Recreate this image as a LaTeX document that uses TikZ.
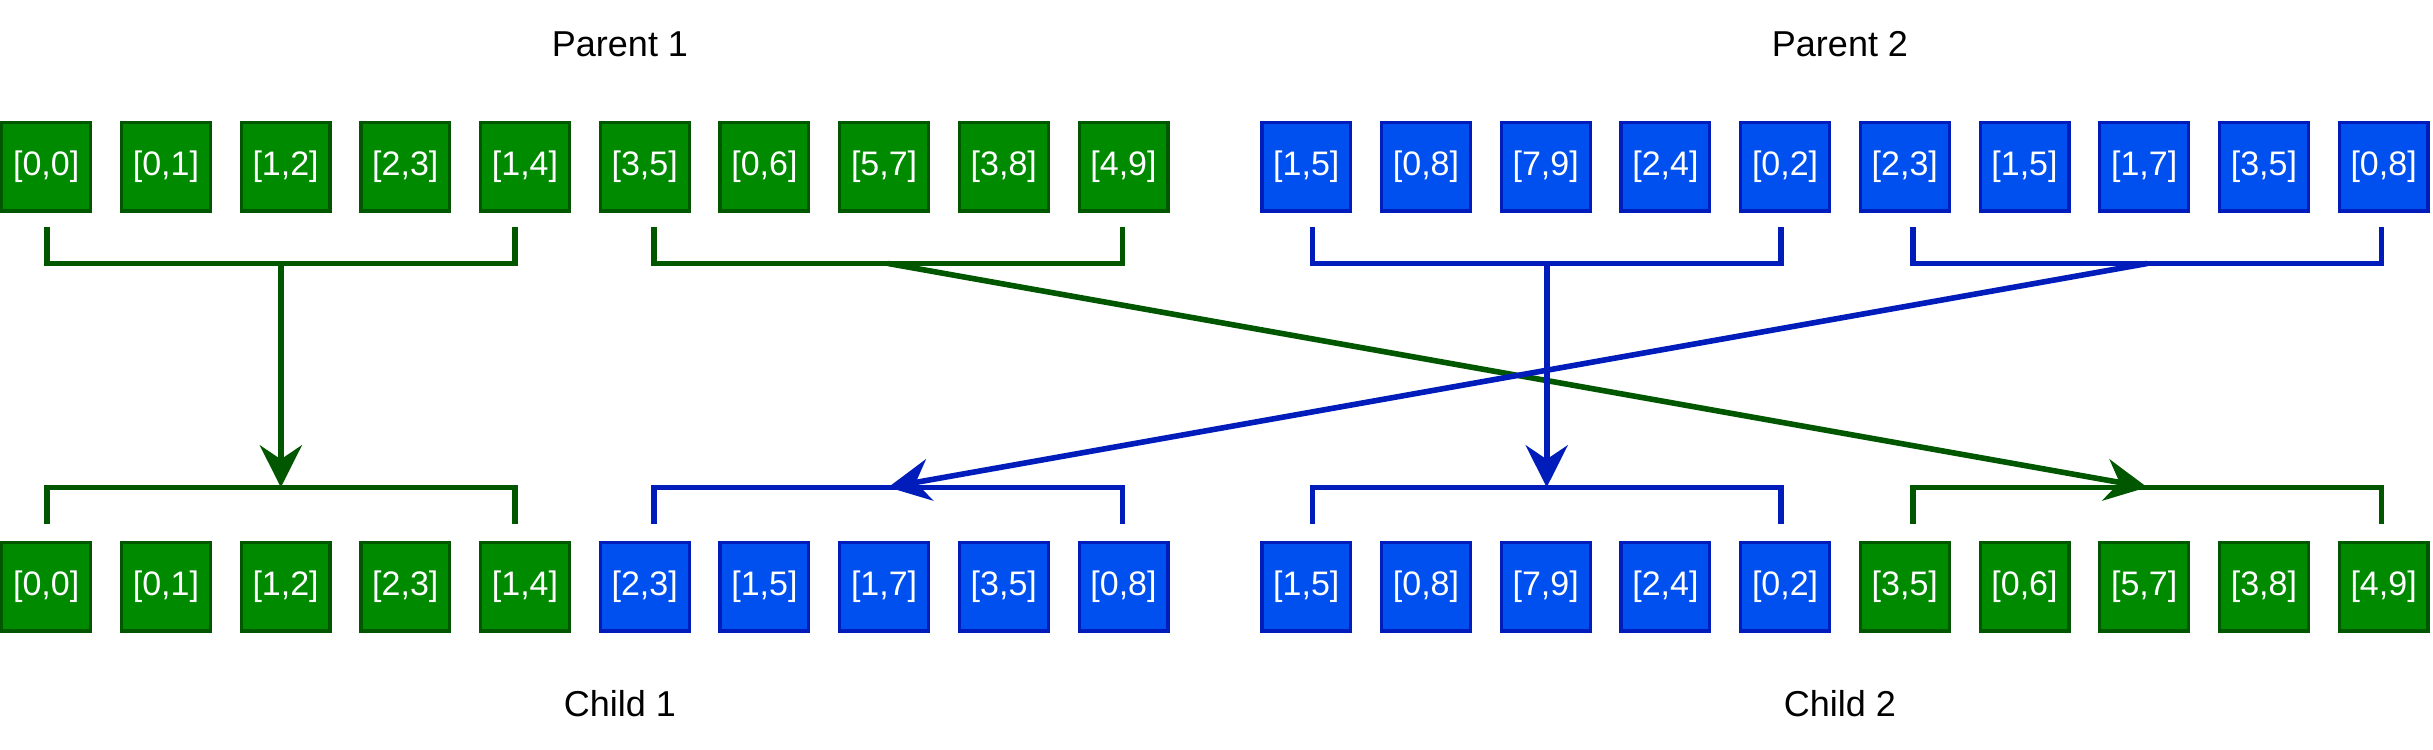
\documentclass[tikz,border=0pt]{standalone}
\usepackage{fontspec}
\setmainfont{Liberation Sans}
\usetikzlibrary{arrows.meta}
\definecolor{gfill}{HTML}{008A00}
\definecolor{gline}{HTML}{005700}
\definecolor{bfill}{HTML}{0050EF}
\definecolor{bline}{HTML}{001DBC}
\begin{document}
\begin{tikzpicture}[x=0.5pt,y=-0.5pt,
  cell/.style={minimum width=44.4pt,minimum height=44.4pt,inner sep=0pt,line width=1.6pt,text=white,font=\fontsize{17}{20}\selectfont},
  gcell/.style={cell,fill=gfill,draw=gline},
  bcell/.style={cell,fill=bfill,draw=bline},
  brk/.style={line width=2.8pt,line join=miter},
  tip/.style={-{Stealth[length=21pt,width=21pt,inset=7pt]}},
  lbl/.style={font=\fontsize{18}{22}\selectfont,anchor=base}]
\useasboundingbox (0,0) rectangle (2433,750);
% labels
\node[lbl] (p1) at (620,56.7) {Parent 1};
\node[lbl] (p2) at (1840,56.7) {Parent 2};
\node[lbl] (c1) at (620,716.7) {Child 1};
\node[lbl] (c2) at (1840,716.7) {Child 2};
% top row: parent 1
\node[gcell] (t0) at (46.2,166.5) {[0,0]};
\node[gcell] (t1) at (165.9,166.5) {[0,1]};
\node[gcell] (t2) at (285.6,166.5) {[1,2]};
\node[gcell] (t3) at (405.3,166.5) {[2,3]};
\node[gcell] (t4) at (525.0,166.5) {[1,4]};
\node[gcell] (t5) at (644.7,166.5) {[3,5]};
\node[gcell] (t6) at (764.4,166.5) {[0,6]};
\node[gcell] (t7) at (884.1,166.5) {[5,7]};
\node[gcell] (t8) at (1003.8,166.5) {[3,8]};
\node[gcell] (t9) at (1123.5,166.5) {[4,9]};
% top row: parent 2
\node[bcell] (t10) at (1306.3,166.5) {[1,5]};
\node[bcell] (t11) at (1426.0,166.5) {[0,8]};
\node[bcell] (t12) at (1545.7,166.5) {[7,9]};
\node[bcell] (t13) at (1665.4,166.5) {[2,4]};
\node[bcell] (t14) at (1785.1,166.5) {[0,2]};
\node[bcell] (t15) at (1904.8,166.5) {[2,3]};
\node[bcell] (t16) at (2024.5,166.5) {[1,5]};
\node[bcell] (t17) at (2144.2,166.5) {[1,7]};
\node[bcell] (t18) at (2263.9,166.5) {[3,5]};
\node[bcell] (t19) at (2383.6,166.5) {[0,8]};
% bottom row: child 1
\node[gcell] (b0) at (46.2,586.5) {[0,0]};
\node[gcell] (b1) at (165.9,586.5) {[0,1]};
\node[gcell] (b2) at (285.6,586.5) {[1,2]};
\node[gcell] (b3) at (405.3,586.5) {[2,3]};
\node[gcell] (b4) at (525.0,586.5) {[1,4]};
\node[bcell] (b5) at (644.7,586.5) {[2,3]};
\node[bcell] (b6) at (764.4,586.5) {[1,5]};
\node[bcell] (b7) at (884.1,586.5) {[1,7]};
\node[bcell] (b8) at (1003.8,586.5) {[3,5]};
\node[bcell] (b9) at (1123.5,586.5) {[0,8]};
% bottom row: child 2
\node[bcell] (b10) at (1306.3,586.5) {[1,5]};
\node[bcell] (b11) at (1426.0,586.5) {[0,8]};
\node[bcell] (b12) at (1545.7,586.5) {[7,9]};
\node[bcell] (b13) at (1665.4,586.5) {[2,4]};
\node[bcell] (b14) at (1785.1,586.5) {[0,2]};
\node[gcell] (b15) at (1904.8,586.5) {[3,5]};
\node[gcell] (b16) at (2024.5,586.5) {[0,6]};
\node[gcell] (b17) at (2144.2,586.5) {[5,7]};
\node[gcell] (b18) at (2263.9,586.5) {[3,8]};
\node[gcell] (b19) at (2383.6,586.5) {[4,9]};
% bracket coordinates
\coordinate (tg1) at (280.85,263.5);
\coordinate (tg2) at (888.2,263.5);
\coordinate (tb1) at (1546.7,263.5);
\coordinate (tb2) at (2147.2,263.5);
\coordinate (bg1) at (280.85,487.3);
\coordinate (bb1) at (888.2,487.3);
\coordinate (bb2) at (1546.7,487.3);
\coordinate (bg2) at (2147.2,487.3);
% top brackets
\draw[brk,gline] (46.7,227) |- (tg1) -| (515,227);
\draw[brk,gline] (654,227) |- (tg2) -| (1122.3,227);
\draw[brk,bline] (1312.3,227) |- (tb1) -| (1781,227);
\draw[brk,bline] (1913,227) |- (tb2) -| (2381.3,227);
% bottom brackets
\draw[brk,gline] (46.7,523.5) |- (bg1) -| (515,523.5);
\draw[brk,bline] (654,523.5) |- (bb1) -| (1122.3,523.5);
\draw[brk,bline] (1312.3,523.5) |- (bb2) -| (1781,523.5);
\draw[brk,gline] (1913,523.5) |- (bg2) -| (2381.3,523.5);
% arrows
\draw[brk,gline,tip] (tg1) -- (bg1);
\draw[brk,gline,tip] (tg2) -- (bg2);
\draw[brk,bline,tip] (tb1) -- (bb2);
\draw[brk,bline,tip] (tb2) -- (bb1);
\end{tikzpicture}
\end{document}
